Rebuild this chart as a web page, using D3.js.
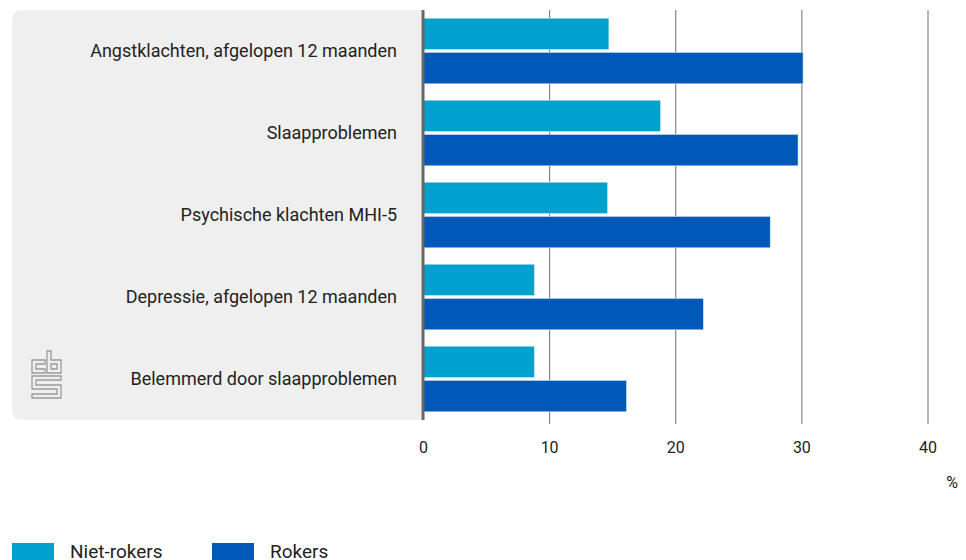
<!DOCTYPE html>
<html><head><meta charset="utf-8">
<script src="https://cdn.jsdelivr.net/npm/d3@7"></script>
<style>body{margin:0;background:#fff;}svg{display:block;font-family:Roboto,"Open Sans",sans-serif;}</style>
</head><body>
<svg id="c" width="966" height="560"></svg>
<script>
const categories = ["Angstklachten, afgelopen 12 maanden","Slaapproblemen","Psychische klachten MHI-5","Depressie, afgelopen 12 maanden","Belemmerd door slaapproblemen"];
const seriesNames = ["Niet-rokers","Rokers"];
const nietRokers = [14.7, 18.8, 14.6, 8.8, 8.8];
const rokers = [30.1, 29.7, 27.5, 22.2, 16.1];
const tickValues = [0,10,20,30,40];
const colors = ["#00a1cd","#0058b8"];

const svg = d3.select("#c");
const x = d3.scaleLinear().domain([0,40]).range([423.5,928]);
const y = d3.scaleBand().domain(categories).range([10,420]).paddingInner(0.2).paddingOuter(0.1);
const ySub = d3.scaleBand().domain(seriesNames).range([0,y.bandwidth()]).paddingInner(0.08);

// panel
svg.append("path").attr("fill","#efefef")
  .attr("d", (()=>{const x0=12,x1=421,y0=10,y1=420,r=10;
    return `M${x0+r},${y0}H${x1}V${y1}H${x0+r}Q${x0},${y1} ${x0},${y1-r}V${y0+r}Q${x0},${y0} ${x0+r},${y0}Z`;})());

// grid
svg.append("g").selectAll("line").data(tickValues.slice(1)).join("line")
  .attr("x1",d=>x(d)).attr("x2",d=>x(d)).attr("y1",10).attr("y2",424)
  .attr("stroke","#6e6e6e").attr("stroke-width",1);

// bars
const data = categories.map((c,i)=>({cat:c, vals:[nietRokers[i], rokers[i]]}));
const g = svg.append("g");
data.forEach(d=>{
  d.vals.forEach((v,j)=>{
    g.append("rect")
      .attr("x", x(0)).attr("y", y(d.cat)+ySub(seriesNames[j]))
      .attr("width", x(v)-x(0)).attr("height", ySub.bandwidth())
      .attr("fill", colors[j]).attr("stroke","rgba(255,255,255,0.55)").attr("stroke-width",1);
  });
});

// axis line
svg.append("line").attr("x1",x(0)-0.5).attr("x2",x(0)-0.5).attr("y1",10).attr("y2",420)
  .attr("stroke","#666").attr("stroke-width",3);

// category labels
svg.append("g").selectAll("text").data(categories).join("text")
  .attr("x",397).attr("y",d=>y(d)+y.bandwidth()/2).attr("dy","0.35em")
  .attr("text-anchor","end").attr("font-size",18).attr("fill","#222").text(d=>d);

// x tick labels
svg.append("g").selectAll("text").data(tickValues).join("text")
  .attr("x",d=>x(d)).attr("y",447).attr("dy","0.35em").attr("text-anchor","middle")
  .attr("font-size",16).attr("fill","#222").text(d=>d);
svg.append("text").attr("x",958).attr("y",482).attr("dy","0.35em").attr("text-anchor","end")
  .attr("font-size",16).attr("fill","#222").text("%");

// legend
const leg = svg.append("g");
const legX = [12,212];
seriesNames.forEach((s,i)=>{
  leg.append("rect").attr("x",legX[i]).attr("y",543).attr("width",42).attr("height",20).attr("fill",colors[i]);
  leg.append("text").attr("x",legX[i]+58).attr("y",551).attr("dy","0.35em").attr("font-size",19).attr("fill","#222").text(s);
});

// cbs logo
const logo = svg.append("g").attr("fill","none").attr("stroke","#9a9a9a").attr("stroke-width",1.3);
logo.append("path").attr("d","M32,360V373H45V369H36V364H45V360Z");
logo.append("path").attr("d","M47,351H51V360H61V373H47Z M51,364V369H57V364Z");
logo.append("path").attr("d","M32,376H61V380H36V385H61V398H32V394H57V389H32Z");
</script>
</body></html>
